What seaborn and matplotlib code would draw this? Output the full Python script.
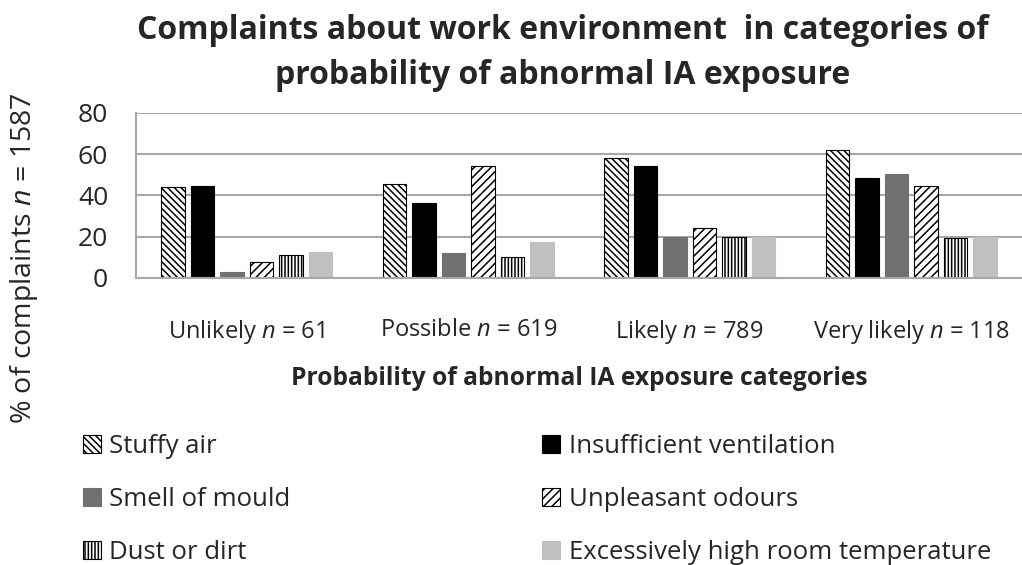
import matplotlib
matplotlib.use("Agg")
import matplotlib.pyplot as plt
import pandas as pd
import seaborn as sns

categories = ["Unlikely $n$ = 61", "Possible $n$ = 619", "Likely $n$ = 789", "Very likely $n$ = 118"]
complaints = ["Stuffy air", "Insufficient ventilation", "Smell of mould",
              "Unpleasant odours", "Dust or dirt", "Excessively high room temperature"]
stuffy_air = [44.2, 45.6, 58.1, 61.9]
insufficient_vent = [44.6, 36.2, 54.4, 48.7]
smell_mould = [2.9, 12.3, 20.0, 50.6]
unpleasant_odours = [7.9, 54.5, 24.4, 44.8]
dust_dirt = [11.3, 10.2, 20.0, 19.6]
high_temp = [12.8, 17.6, 20.0, 20.0]

series = [stuffy_air, insufficient_vent, smell_mould, unpleasant_odours, dust_dirt, high_temp]
rows = []
for name, vals in zip(complaints, series):
    for cat, v in zip(categories, vals):
        rows.append({"category": cat, "complaint": name, "pct": v})
df = pd.DataFrame(rows)

sns.set_theme(style="white")
plt.rcParams["font.family"] = ["Open Sans", "DejaVu Sans"]
plt.rcParams["mathtext.fontset"] = "custom"
plt.rcParams["mathtext.rm"] = "Open Sans"
plt.rcParams["mathtext.it"] = "Open Sans:italic"
plt.rcParams["hatch.linewidth"] = 1.1

fig = plt.figure(figsize=(10.22, 5.65), dpi=100)
ax = fig.add_axes([0.133, 0.508, 0.867, 0.292])
sns.barplot(data=df, x="category", y="pct", hue="complaint", order=categories,
            hue_order=complaints, width=0.8, gap=0.2, ax=ax, legend=False)

styles = [
    dict(fc="white", ec="black", hatch="\\\\\\\\\\"),
    dict(fc="black", ec="black", hatch=None),
    dict(fc="#707070", ec="#707070", hatch=None),
    dict(fc="white", ec="black", hatch="////"),
    dict(fc="white", ec="black", hatch="|||||"),
    dict(fc="#c0c0c0", ec="#c0c0c0", hatch=None),
]
for cont, st in zip(ax.containers, styles):
    for bar in cont:
        bar.set_facecolor(st["fc"])
        bar.set_edgecolor(st["ec"])
        bar.set_linewidth(0.8)
        if st["hatch"]:
            bar.set_hatch(st["hatch"])

ax.set_ylim(0, 80)
ax.set_yticks([0, 20, 40, 60, 80])
ax.yaxis.grid(True, color="#a8a8a8", linewidth=1.5)
ax.set_axisbelow(True)
for side in ["top", "right"]:
    ax.spines[side].set_visible(False)
for side in ["left", "bottom"]:
    ax.spines[side].set_color("#a8a8a8")
    ax.spines[side].set_linewidth(1.5)
ax.tick_params(axis="y", length=0, pad=20, labelsize=19)
ax.tick_params(axis="x", length=0, pad=29, labelsize=17)

ax.set_xlabel("Probability of abnormal IA exposure categories", fontsize=17.7,
              fontweight="bold", labelpad=14)
ax.set_ylabel("% of complaints $n$ = 1587", fontsize=20.5)
ax.yaxis.set_label_coords(-0.108, 0.12)

fig.text(0.551, 1 - 39 / 565, "Complaints about work environment  in categories of",
         ha="center", va="baseline", fontsize=23, fontweight="bold")
fig.text(0.551, 1 - 84 / 565, "probability of abnormal IA exposure",
         ha="center", va="baseline", fontsize=23, fontweight="bold")

handles = [ax.containers[i].patches[0] for i in range(6)]
order = [0, 2, 4, 1, 3, 5]
fig.legend([handles[i] for i in order], [complaints[i] for i in order],
           loc="upper left", bbox_to_anchor=(0.081, 0.232), ncol=2, frameon=False,
           fontsize=18.5, handlelength=0.7, handleheight=0.7, handletextpad=0.33,
           labelspacing=1.1, columnspacing=9.8, borderaxespad=0, borderpad=0)

fig.savefig("out.png", dpi=100)
